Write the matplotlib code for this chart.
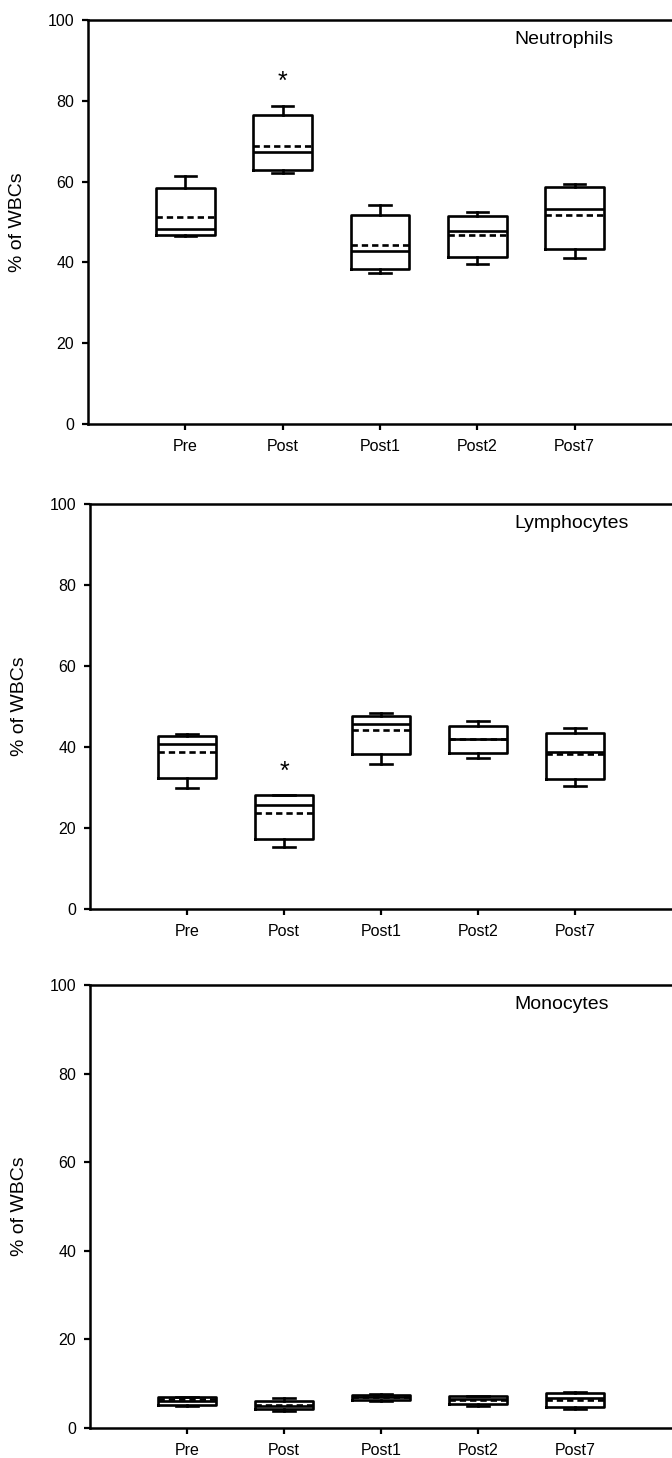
import matplotlib
matplotlib.use("Agg")
import matplotlib.pyplot as plt

plt.rcParams['font.family'] = ['Liberation Sans', 'DejaVu Sans']

groups = ["Pre", "Post", "Post1", "Post2", "Post7"]

# Neutrophils (% of WBCs)
neut_lo = [46.5, 62.1, 37.5, 39.6, 41.0]
neut_q1 = [46.9, 62.9, 38.3, 41.4, 43.3]
neut_med = [48.3, 67.3, 42.7, 47.7, 53.1]
neut_mean = [51.2, 68.9, 44.2, 46.8, 51.7]
neut_q3 = [58.3, 76.4, 51.7, 51.4, 58.7]
neut_hi = [61.5, 78.7, 54.1, 52.4, 59.5]

# Lymphocytes
lymph_lo = [29.8, 15.4, 35.9, 37.2, 30.3]
lymph_q1 = [32.4, 17.3, 38.3, 38.4, 32.1]
lymph_med = [40.7, 25.7, 45.8, 42.0, 38.7]
lymph_mean = [38.7, 23.8, 44.1, 42.0, 38.3]
lymph_q3 = [42.7, 28.2, 47.7, 45.3, 43.5]
lymph_hi = [43.1, 28.2, 48.4, 46.5, 44.7]

# Monocytes
mono_lo = [5.0, 3.8, 6.2, 5.0, 4.2]
mono_q1 = [5.2, 4.3, 6.3, 5.4, 4.8]
mono_med = [6.2, 5.0, 7.0, 6.6, 6.8]
mono_mean = [6.5, 5.3, 6.9, 6.3, 6.4]
mono_q3 = [7.1, 6.2, 7.5, 7.2, 7.8]
mono_hi = [7.1, 6.7, 7.7, 7.2, 8.2]

panels = [
    ("Neutrophils", neut_lo, neut_q1, neut_med, neut_mean, neut_q3, neut_hi, "Post", 84.7),
    ("Lymphocytes", lymph_lo, lymph_q1, lymph_med, lymph_mean, lymph_q3, lymph_hi, "Post", 33.9),
    ("Monocytes", mono_lo, mono_q1, mono_med, mono_mean, mono_q3, mono_hi, None, None),
]

# axes boxes in pixels: left, top, bottom
W, H = 672, 1458
boxes_px = [(88, 20, 424), (90, 504, 909), (90, 985, 1428)]

fig = plt.figure(figsize=(W / 100, H / 100), dpi=100)

for (name, lo, q1, med, mean, q3, hi, star_grp, star_y), (l, t, b) in zip(panels, boxes_px):
    ax = fig.add_axes([l / W, 1 - b / H, (W - l) / W, (b - t) / H])
    stats = []
    for i in range(len(groups)):
        stats.append({"whislo": lo[i], "q1": q1[i], "med": med[i], "mean": mean[i],
                      "q3": q3[i], "whishi": hi[i], "fliers": []})
    pos = list(range(1, len(groups) + 1))
    lp = dict(color="black", linewidth=1.9)
    ax.bxp(stats, positions=pos, widths=0.6, capwidths=0.22, showmeans=True, meanline=True,
           boxprops=lp, whiskerprops=lp, capprops=lp, medianprops=lp,
           meanprops=dict(color="black", linewidth=1.9, linestyle=(0, (2.4, 1.5))),
           showfliers=False, manage_ticks=False)
    ax.set_xlim(0, 6)
    ax.set_ylim(0, 100)
    ax.set_xticks(pos)
    ax.set_xticklabels(groups)
    ax.set_yticks([0, 20, 40, 60, 80, 100])
    ax.tick_params(axis="x", length=4, width=1.6, pad=7, labelsize=11.5)
    ax.tick_params(axis="y", length=4, width=1.6, pad=6, labelsize=11.5)
    for s in ["left", "bottom", "top"]:
        ax.spines[s].set_linewidth(1.8)
    ax.spines["right"].set_visible(False)
    ax.set_ylabel("% of WBCs", fontsize=14)
    ax.yaxis.set_label_coords(-0.107, 0.5)
    ax.annotate(name, xy=(0.73, 1.0), xycoords="axes fraction", xytext=(0, -14),
                textcoords="offset points", ha="left", va="center", fontsize=14)
    if star_grp is not None:
        ax.text(groups.index(star_grp) + 1, star_y, "*", ha="center", va="center", fontsize=18)

fig.savefig("out.png", dpi=100)
